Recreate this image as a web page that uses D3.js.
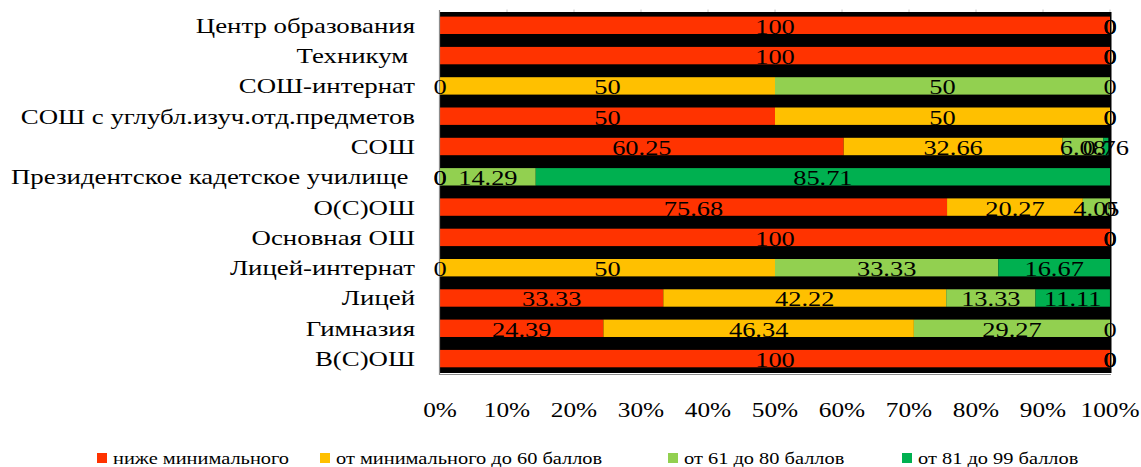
<!DOCTYPE html>
<html><head><meta charset="utf-8">
<script src="https://cdn.jsdelivr.net/npm/d3@7"></script>
<style>body{margin:0;background:#fff}svg{display:block}text{font-family:"Liberation Serif","Times New Roman",serif;fill:#000;white-space:pre}</style>
</head><body><svg id="c" width="1141" height="467"></svg>
<script>
const categories = ["Центр образования","Техникум\u00a0","СОШ-интернат","СОШ с углубл.изуч.отд.предметов","СОШ","Президентское кадетское училище\u00a0","О(С)ОШ","Основная ОШ","Лицей-интернат","Лицей","Гимназия","В(С)ОШ"];
const seriesNames = ["ниже минимального","от минимального до 60 баллов","от 61 до 80 баллов","от 81 до 99 баллов"];
const seriesColors = ["#FF3300","#FFC000","#92D050","#00B050"];
const belowMin   = [100,100,0,50,60.25,0,75.68,100,0,33.33,24.39,100];
const minTo60    = [0,0,50,50,32.66,0,20.27,0,50,42.22,46.34,0];
const from61to80 = [0,0,50,0,6.08,14.29,4.05,0,33.33,13.33,29.27,0];
const from81to99 = [0,0,0,0,0.76,85.71,0,0,16.67,11.11,0,0];
const xTicks = [0,10,20,30,40,50,60,70,80,90,100];

const series = [belowMin, minTo60, from61to80, from81to99];
const svg = d3.select("#c");
const x = d3.scaleLinear().domain([0,100]).range([440,1110]);
const y = d3.scaleBand().domain(categories).range([3.7,380.2]).paddingInner(0.426).paddingOuter(0.426);

// gridlines
svg.append("g").selectAll("line").data(xTicks.slice(1)).join("line")
  .attr("x1",d=>x(d)).attr("x2",d=>x(d)).attr("y1",9.5).attr("y2",373)
  .attr("stroke","#c8c8c8").attr("stroke-width",1);
// black plot background
svg.append("rect").attr("x",x(0)).attr("y",12).attr("width",x(100)-x(0)+1.5).attr("height",361).attr("fill","#000");

// stacked bars
const rows = categories.map((c,i)=>{const o={cat:c}; series.forEach((s,k)=>o["s"+k]=s[i]); return o;});
const stack = d3.stack().keys(["s0","s1","s2","s3"])(rows);
const g = svg.append("g");
stack.forEach((layer,k)=>{
  g.append("g").attr("fill",seriesColors[k]).selectAll("rect").data(layer).join("rect")
    .attr("x",d=>x(d[0])).attr("width",d=>x(d[1])-x(d[0]))
    .attr("y",d=>y(d.data.cat)).attr("height",y.bandwidth());
});
// axes lines
svg.append("line").attr("x1",439.5).attr("x2",439.5).attr("y1",10).attr("y2",375).attr("stroke","#8c8c8c").attr("stroke-width",1.2);
svg.append("line").attr("x1",439).attr("x2",1111).attr("y1",374.5).attr("y2",374.5).attr("stroke","#8c8c8c").attr("stroke-width",1.2);

function txt(sel, xx, yy, s, anchor, size, sx){
  return sel.append("text").attr("transform",`translate(${xx},${yy}) scale(${sx},1)`)
    .attr("text-anchor",anchor).attr("font-size",size).text(s);
}
// data labels
stack.forEach((layer,k)=>{
  layer.forEach(d=>{
    const v = d.data["s"+k];
    const cx = (x(d[0])+x(d[1]))/2;
    const cy = y(d.data.cat)+y.bandwidth()/2;
    txt(svg, cx, cy+8.5, String(v), "middle", 22, 1.2);
  });
});
// category labels
categories.forEach(c=>{
  txt(svg, 415, y(c)+y.bandwidth()/2+7.5, c, "end", 22, 1.22);
});
// x tick labels
xTicks.forEach(t=>{
  txt(svg, x(t), 417, t+"%", "middle", 22, 1.15);
});
// legend
const legX = [97,320,668,902];
seriesNames.forEach((n,k)=>{
  svg.append("rect").attr("x",legX[k]).attr("y",453).attr("width",10).attr("height",10).attr("fill",seriesColors[k]);
  txt(svg, legX[k]+16, 464, n, "start", 17, 1.2);
});
</script></body></html>
